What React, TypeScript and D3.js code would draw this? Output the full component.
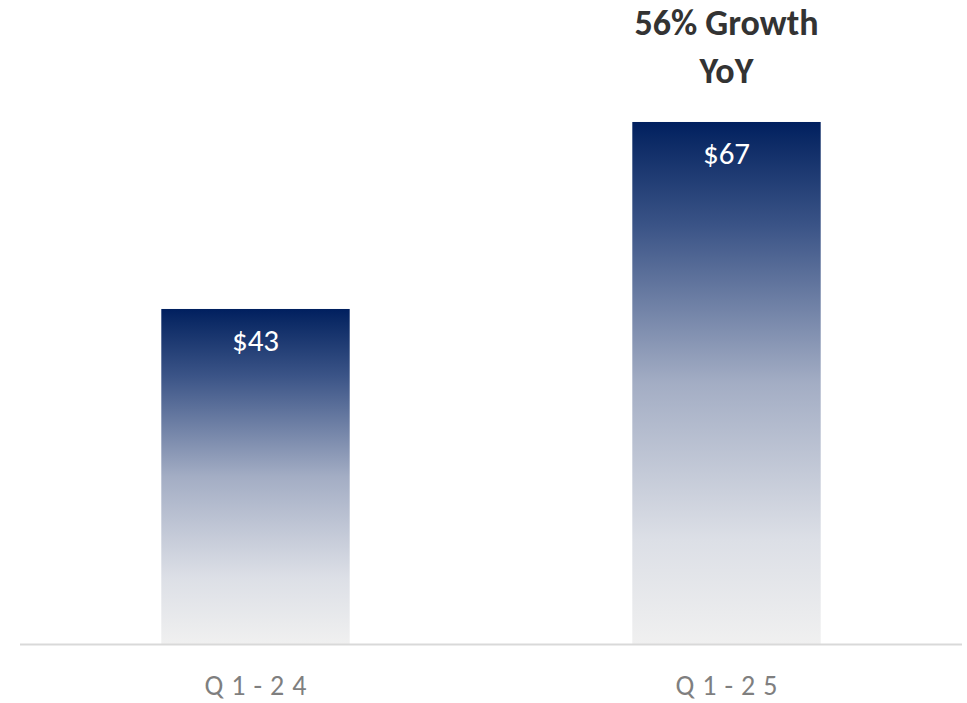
import React from "react";
import * as d3 from "d3";

const categories = ["Q1-24", "Q1-25"];
const values = [43, 67];
const valueLabels = ["$43", "$67"];
const annotationLines = ["56% Growth", "YoY"];

const W = 967;
const H = 703;

export default function App() {
  const x = d3.scaleBand<string>().domain(categories).range([20, 962]).paddingInner(0.6).paddingOuter(0.3);
  const y = d3.scaleLinear().domain([0, 80]).range([644, 20.7]);
  const font = "Carlito, Calibri, Lato, 'Open Sans', sans-serif";
  const lastX = (x(categories[1]) ?? 0) + x.bandwidth() / 2;
  return (
    <svg width={W} height={H} style={{ position: "absolute", left: 0, top: 0, background: "#fff" }}>
      <defs>
        <linearGradient id="barGrad" x1="0" y1="0" x2="0" y2="1">
          <stop offset="0" stopColor="#001f5f" />
          <stop offset="0.04" stopColor="#0d2b66" />
          <stop offset="0.2" stopColor="#3b5487" />
          <stop offset="0.5" stopColor="#a3adc4" />
          <stop offset="0.8" stopColor="#dcdfe6" />
          <stop offset="1" stopColor="#f0f0f0" />
        </linearGradient>
      </defs>
      {categories.map((c, i) => (
        <g key={c}>
          <rect x={x(c)} y={y(values[i])} width={x.bandwidth()} height={y(0) - y(values[i])} fill="url(#barGrad)" />
          <text x={(x(c) ?? 0) + x.bandwidth() / 2} y={y(values[i]) + 42} textAnchor="middle" fill="#ffffff" fontSize={31} fontFamily={font}>
            {valueLabels[i]}
          </text>
          <text x={(x(c) ?? 0) + x.bandwidth() / 2 + 4} y={695} textAnchor="middle" fill="#7f7f7f" fontSize={28} fontFamily={font} letterSpacing={8}>
            {c}
          </text>
        </g>
      ))}
      <line x1={20} x2={962} y1={y(0) + 0.5} y2={y(0) + 0.5} stroke="#d9d9d9" strokeWidth={2} />
      {annotationLines.map((t, i) => (
        <text key={t} x={lastX} y={35 + i * 48} textAnchor="middle" fill="#333333" fontSize={36} fontWeight="bold" fontFamily={font}>
          {t}
        </text>
      ))}
    </svg>
  );
}
